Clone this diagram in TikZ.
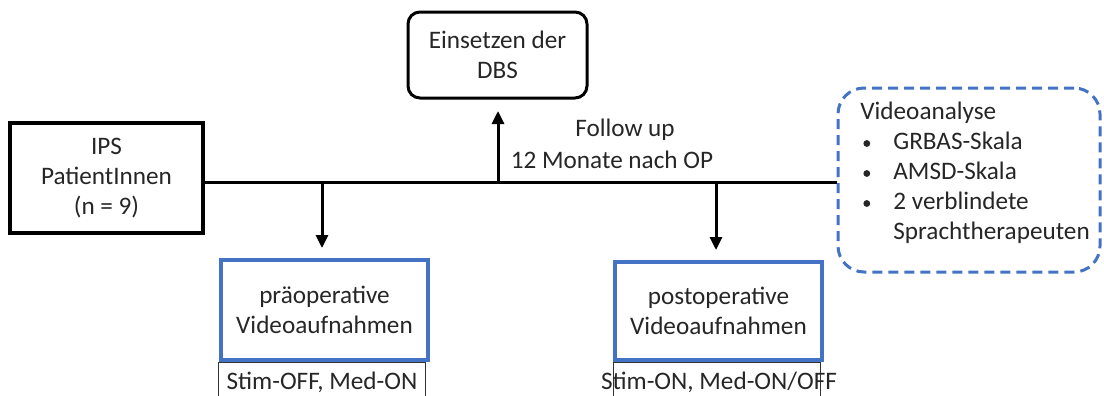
\documentclass[tikz,border=0pt]{standalone}
\usepackage{fontspec}
\setmainfont{Carlito}
\usetikzlibrary{arrows.meta}
\definecolor{boxblue}{HTML}{4472C4}
\definecolor{txt}{HTML}{262626}
\newcommand{\itemdot}{\hspace*{1.5pt}\makebox[15pt][l]{\raisebox{0.25ex}{\tikz\fill[txt] (0,0) circle (1.7pt);}}}
\begin{document}
\begin{tikzpicture}[x=0.5pt,y=-0.5pt,
  every node/.style={text=txt,font=\fontsize{12.6}{15}\selectfont,inner sep=0pt},
  mainbox/.style={draw=black,line width=2.3pt,align=center},
  dbsbox/.style={draw=black,line width=1.5pt,rounded corners=6pt,align=center},
  phasebox/.style={draw=boxblue,line width=1.6pt,align=center},
  condbox/.style={draw=black!80,line width=0.6pt},
  evalbox/.style={draw=boxblue,line width=1.5pt,dash pattern=on 5pt off 3pt,rounded corners=13pt},
  link/.style={line width=1.5pt,draw=black},
  arr/.style={link,-{Triangle[length=6.5pt,width=6pt]}}]
\useasboundingbox (0,0) rectangle (1104,396);
\clip (0,0) rectangle (1104,396);

% boxes
\node[mainbox,minimum width=96.5pt,minimum height=55pt] (ips) at (106.5,178)
  {IPS\\PatientInnen\\(n = 9)};
\node[dbsbox,minimum width=89.5pt,minimum height=43pt] (dbs) at (497.5,55)
  {Einsetzen der\\DBS};
\node[phasebox,minimum width=103.5pt,minimum height=50pt] (pre) at (324.5,310)
  {präoperative\\Videoaufnahmen};
\node[phasebox,minimum width=103.5pt,minimum height=49pt] (post) at (718.5,311)
  {postoperative\\Videoaufnahmen};
\node[evalbox,minimum width=131pt,minimum height=92pt] (eval) at (969,180) {};

% condition boxes below the recording boxes
\draw[condbox] (pre.south west) ++(-1,1) rectangle ++(207,60);
\node (precond) at (322,382) {Stim-OFF, Med-ON};
\draw[condbox] (post.south west) ++(0,1) rectangle ++(207,60);
\node (postcond) at (719,382) {Stim-ON, Med-ON/OFF};

% evaluation text
\node[anchor=north west,align=left] (evaltext) at (860,102)
  {Videoanalyse\\
   \itemdot GRBAS-Skala\\
   \itemdot AMSD-Skala\\
   \itemdot 2 verblindete\\
   \hspace*{16.5pt}Sprachtherapeuten};

% follow-up label
\node (fu1) at (625,130) {Follow up};
\node (fu2) at (612,160) {12 Monate nach OP};

% time line and branches
\coordinate (tstart) at (ips.east |- 0,182);
\coordinate (tend) at (eval.west |- 0,182);
\coordinate (jdbs) at (498,182);
\coordinate (jpre) at (322,182);
\coordinate (jpost) at (716,182);
\draw[link] (tstart) -- (tend);
\draw[arr] (jdbs) -- (498,111);
\draw[arr] (jpre) -- (322,248);
\draw[arr] (jpost) -- (716,250);
\end{tikzpicture}
\end{document}
